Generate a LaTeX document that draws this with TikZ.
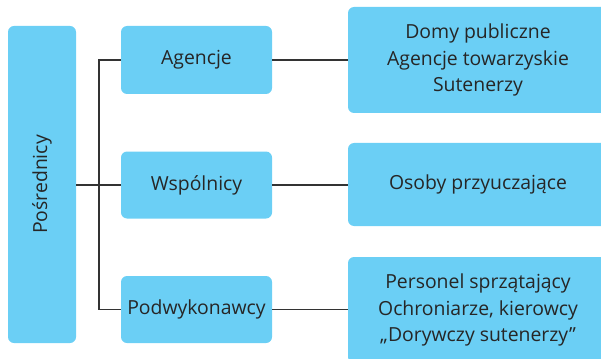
\documentclass[tikz,border=0pt]{standalone}
\usepackage{fontspec}
\setmainfont{Open Sans}
\definecolor{boxblue}{HTML}{6BCFF5}
\definecolor{linegray}{HTML}{333333}
\begin{document}
\begin{tikzpicture}[x=1pt,y=-1pt,
  bx/.style={fill=boxblue,draw=none,rounded corners=6pt,inner sep=0pt,align=center,
    font=\fontsize{19.4}{26.7}\selectfont,text=black!85},
  conn/.style={draw=linegray,line width=1.1pt}]
\useasboundingbox (0,0) rectangle (601,358);
\node[bx,minimum width=68,minimum height=317] (p) at (42,184.5) {};
\node[rotate=90,font=\fontsize{19.4}{22}\selectfont,text=black!85] (pt) at (42,184.5) {Pośrednicy};
\node[bx,minimum width=151,minimum height=68] (a) at (196.5,60) {Agencje};
\node[bx,minimum width=151,minimum height=67] (w) at (196.5,185) {Wspólnicy};
\node[bx,minimum width=151,minimum height=67] (d) at (196.5,309.5) {Podwykonawcy};
\node[bx,minimum width=260,minimum height=106] (ra) at (478,60) {Domy publiczne\\Agencje towarzyskie\\Sutenerzy};
\node[bx,minimum width=260,minimum height=83] (rw) at (478,184.5) {Osoby przyuczające};
\node[bx,minimum width=260,minimum height=106] (rd) at (478,310) {Personel sprzątający\\Ochroniarze, kierowcy\\„Dorywczy sutenerzy”};
\coordinate (t1) at (99,60);
\coordinate (t2) at (99,309.5);
\coordinate (tm) at (99,185);
\draw[conn] (p.east |- tm) -- (w.west);
\draw[conn] (a.west) -- (t1) -- (t2) -- (d.west);
\draw[conn] (a.east) -- (ra.west |- a.east);
\draw[conn] (w.east) -- (rw.west |- w.east);
\draw[conn] (d.east) -- (rd.west |- d.east);
\end{tikzpicture}
\end{document}
